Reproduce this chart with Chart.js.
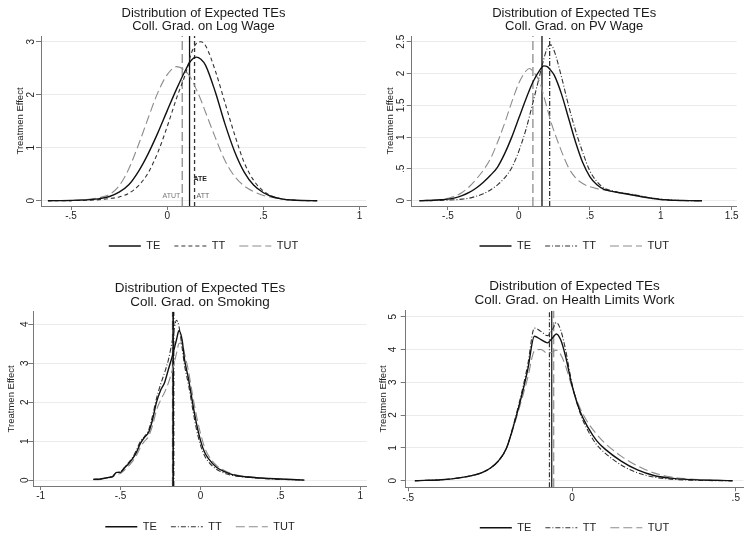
<!DOCTYPE html>
<html>
<head>
<meta charset="utf-8">
<script src="https://cdn.jsdelivr.net/npm/chart.js@4.4.1/dist/chart.umd.min.js"></script>
<style>
  html, body { margin: 0; padding: 0; background: #fff; }
  #wrap { position: relative; width: 751px; height: 540px; }
  canvas { position: absolute; }
</style>
</head>
<body>
<div id="wrap">
  <canvas id="c1" width="375" height="270" style="left:0;top:0"></canvas>
  <canvas id="c2" width="376" height="270" style="left:375px;top:0"></canvas>
  <canvas id="c3" width="375" height="270" style="left:0;top:270px"></canvas>
  <canvas id="c4" width="376" height="270" style="left:375px;top:270px"></canvas>
</div>
<script>
// panel 1: log wage
const x1 = [-0.62, -0.55, -0.5, -0.45, -0.4, -0.35, -0.3, -0.25, -0.2, -0.15, -0.1, -0.05, 0, 0.05, 0.1, 0.125, 0.15, 0.175, 0.2, 0.25, 0.3, 0.35, 0.4, 0.45, 0.5, 0.55, 0.6, 0.65, 0.7, 0.78];
const te1 = [0, 0.002, 0.005, 0.01, 0.02, 0.04, 0.08, 0.16, 0.3, 0.55, 0.88, 1.27, 1.7, 2.12, 2.5, 2.65, 2.71, 2.67, 2.55, 2.05, 1.45, 0.93, 0.54, 0.29, 0.15, 0.07, 0.03, 0.012, 0.004, 0];
const tt1 = [0, 0, 0.002, 0.005, 0.01, 0.02, 0.04, 0.07, 0.14, 0.28, 0.52, 0.9, 1.4, 1.95, 2.45, 2.78, 2.96, 3.0, 2.92, 2.45, 1.85, 1.25, 0.72, 0.38, 0.18, 0.08, 0.03, 0.01, 0.003, 0];
const tut1 = [0, 0.002, 0.005, 0.015, 0.03, 0.06, 0.12, 0.28, 0.6, 1.05, 1.55, 2.03, 2.38, 2.53, 2.43, 2.3, 2.11, 1.9, 1.66, 1.19, 0.76, 0.46, 0.28, 0.17, 0.1, 0.06, 0.03, 0.012, 0.004, 0];
const means1 = [0.116, 0.142, 0.078]; // TE, TT, TUT
const notes1 = ['ATE', 'ATT', 'ATUT'];
const noteY1 = [0.41, 0.095, 0.095];
const yTicks1 = [0, 1, 2, 3];
const yLabels1 = ['0', '1', '2', '3'];
const xTicks1 = [-0.5, 0, 0.5, 1];
const xLabels1 = ['-.5', '0', '.5', '1'];

// panel 2: PV wage
const x2 = [-0.7, -0.65, -0.6, -0.55, -0.5, -0.45, -0.4, -0.35, -0.3, -0.25, -0.2, -0.15, -0.1, -0.05, 0, 0.05, 0.075, 0.1, 0.15, 0.175, 0.2, 0.225, 0.25, 0.3, 0.35, 0.4, 0.45, 0.5, 0.55, 0.6, 0.65, 0.7, 0.75, 0.8, 0.85, 0.9, 0.95, 1, 1.05, 1.1, 1.15, 1.2, 1.29];
const te2 = [0, 0.003, 0.008, 0.015, 0.025, 0.045, 0.08, 0.13, 0.2, 0.29, 0.40, 0.53, 0.74, 1.0, 1.3, 1.6, 1.74, 1.87, 2.06, 2.12, 2.11, 2.05, 1.97, 1.68, 1.3, 0.92, 0.6, 0.38, 0.25, 0.18, 0.15, 0.13, 0.11, 0.09, 0.07, 0.05, 0.035, 0.02, 0.012, 0.006, 0.003, 0.001, 0];
const tt2 = [0, 0, 0.003, 0.006, 0.01, 0.015, 0.025, 0.04, 0.07, 0.11, 0.17, 0.25, 0.36, 0.52, 0.78, 1.12, 1.33, 1.55, 2.0, 2.22, 2.4, 2.45, 2.35, 1.95, 1.5, 1.1, 0.76, 0.47, 0.3, 0.2, 0.16, 0.13, 0.115, 0.1, 0.08, 0.055, 0.04, 0.025, 0.015, 0.008, 0.004, 0.001, 0];
const tut2 = [0, 0.005, 0.01, 0.02, 0.04, 0.07, 0.13, 0.22, 0.34, 0.48, 0.66, 0.92, 1.22, 1.55, 1.85, 2.04, 2.08, 2.03, 1.85, 1.65, 1.45, 1.25, 1.08, 0.78, 0.52, 0.36, 0.27, 0.22, 0.19, 0.17, 0.15, 0.13, 0.11, 0.09, 0.07, 0.05, 0.035, 0.02, 0.012, 0.006, 0.003, 0.001, 0];
const means2 = [0.163, 0.217, 0.099];
const yTicks2 = [0, 0.5, 1, 1.5, 2, 2.5];
const yLabels2 = ['0', '.5', '1', '1.5', '2', '2.5'];
const xTicks2 = [-0.5, 0, 0.5, 1, 1.5];
const xLabels2 = ['-.5', '0', '.5', '1', '1.5'];

// panel 3: smoking
const x3 = [-0.67, -0.625, -0.6, -0.575, -0.55, -0.525, -0.5, -0.475, -0.45, -0.425, -0.4, -0.375, -0.35, -0.325, -0.3, -0.275, -0.25, -0.225, -0.2, -0.175, -0.15, -0.135, -0.115, -0.1, -0.075, -0.05, -0.025, 0, 0.025, 0.05, 0.1, 0.15, 0.2, 0.25, 0.3, 0.4, 0.5, 0.65];
const te3 = [0.02, 0.03, 0.05, 0.07, 0.09, 0.2, 0.2, 0.32, 0.42, 0.55, 0.72, 0.95, 1.1, 1.22, 1.55, 2.0, 2.3, 2.5, 2.85, 3.2, 3.6, 3.83, 3.6, 3.1, 2.6, 2.0, 1.45, 1.02, 0.72, 0.55, 0.33, 0.22, 0.14, 0.1, 0.08, 0.05, 0.03, 0];
const tt3 = [0.02, 0.03, 0.05, 0.07, 0.1, 0.2, 0.22, 0.33, 0.45, 0.58, 0.78, 1.0, 1.12, 1.28, 1.65, 2.1, 2.45, 2.75, 3.1, 3.6, 4.1, 3.95, 3.4, 2.95, 2.45, 1.85, 1.3, 0.9, 0.63, 0.47, 0.28, 0.18, 0.12, 0.09, 0.07, 0.04, 0.02, 0];
const tut3 = [0.01, 0.02, 0.04, 0.06, 0.08, 0.15, 0.17, 0.26, 0.36, 0.48, 0.64, 0.85, 1.0, 1.12, 1.4, 1.8, 2.05, 2.25, 2.5, 2.85, 3.25, 3.5, 3.52, 3.25, 2.8, 2.2, 1.65, 1.2, 0.85, 0.63, 0.38, 0.25, 0.16, 0.11, 0.09, 0.05, 0.03, 0];
const means3 = [-0.171, -0.168, -0.174];
const yTicks3 = [0, 1, 2, 3, 4];
const yLabels3 = ['0', '1', '2', '3', '4'];
const xTicks3 = [-1, -0.5, 0, 0.5, 1];
const xLabels3 = ['-1', '-.5', '0', '.5', '1'];

// panel 4: health limits work
const x4 = [-0.48, -0.45, -0.4, -0.35, -0.3, -0.275, -0.25, -0.225, -0.2, -0.175, -0.15, -0.135, -0.115, -0.095, -0.075, -0.06, -0.048, -0.035, -0.02, 0, 0.025, 0.05, 0.075, 0.1, 0.15, 0.2, 0.25, 0.3, 0.35, 0.4, 0.45, 0.49];
const te4 = [0, 0.01, 0.03, 0.08, 0.17, 0.25, 0.38, 0.6, 1.0, 1.8, 2.75, 3.4, 4.4, 4.3, 4.2, 4.35, 4.47, 4.3, 3.8, 2.9, 2.1, 1.6, 1.22, 0.97, 0.6, 0.33, 0.16, 0.08, 0.04, 0.02, 0.01, 0];
const tt4 = [0, 0.01, 0.03, 0.08, 0.17, 0.25, 0.38, 0.6, 1.0, 1.85, 2.85, 3.55, 4.65, 4.55, 4.42, 4.6, 4.82, 4.6, 4.0, 2.95, 2.05, 1.5, 1.1, 0.85, 0.48, 0.24, 0.11, 0.05, 0.02, 0.01, 0, 0];
const tut4 = [0, 0.01, 0.03, 0.08, 0.17, 0.25, 0.38, 0.6, 1.0, 1.75, 2.6, 3.15, 3.95, 4.0, 3.88, 3.92, 3.98, 3.85, 3.5, 2.85, 2.2, 1.75, 1.42, 1.15, 0.75, 0.45, 0.24, 0.12, 0.06, 0.03, 0.01, 0];
const means4 = [-0.062, -0.069, -0.056];
const yTicks4 = [0, 1, 2, 3, 4, 5];
const yLabels4 = ['0', '1', '2', '3', '4', '5'];
const xTicks4 = [-0.5, 0, 0.5];
const xLabels4 = ['-.5', '0', '.5'];

const seriesNames = ['TE', 'TT', 'TUT'];
const yTitle = 'Treatmen Effect';

const fontFamily = '"Liberation Sans", Arial, Helvetica, sans-serif';
Chart.defaults.font.family = fontFamily;

const tickFont = 10;
const legendFont = 11;
const legendPad = 14;
const axisGray = '#777';

const styleOf = (name, ttDash) => {
  if (name === 'TE') return { color: '#111', width: 1.4, dash: [] };
  if (name === 'TT') return { color: '#333', width: 1.1, dash: ttDash };
  return { color: '#8c8c8c', width: 1.1, dash: [9, 4] };
};

// writes the ATE / ATT / ATUT notes next to their lines
const notePlugin = {
  id: 'notes',
  afterDatasetsDraw(chart, args, opts) {
    if (!opts.items || !opts.items.length) return;
    const { ctx } = chart;
    const xs = chart.scales.x;
    const ys = chart.scales.y;
    ctx.save();
    ctx.textBaseline = 'middle';
    opts.items.forEach(it => {
      ctx.font = (it.bold ? 'bold ' : '') + '7px ' + fontFamily;
      ctx.fillStyle = it.color;
      ctx.textAlign = it.align;
      ctx.fillText(it.text, xs.getPixelForValue(it.x) + it.dx, ys.getPixelForValue(it.y));
    });
    ctx.restore();
  }
};

// legend entries take the dash pattern of their curve
const legendItems = chart => chart.data.datasets.slice(0, 3).map((ds, i) => ({
  text: ds.label,
  datasetIndex: i,
  strokeStyle: ds.borderColor,
  fillStyle: ds.borderColor,
  fontColor: '#222',
  lineWidth: ds.borderWidth,
  lineDash: ds.borderDash,
  pointStyle: 'line',
  hidden: false
}));

const buildPanel = p => {
  const canvas = document.getElementById(p.id);
  const W = canvas.width;
  const H = canvas.height;
  const ctx = canvas.getContext('2d');

  ctx.font = tickFont + 'px ' + fontFamily;
  const widest = Math.max(...p.yLabels.map(t => ctx.measureText(t).width));

  const legendTop = p.legendY - legendPad - legendFont / 2;
  const legendH = legendFont + legendPad + 10;
  const titleTop = p.titleY - p.titleLH / 2;

  const datasets = seriesNames.map((name, i) => {
    const st = styleOf(name, p.ttDash);
    return {
      label: name,
      data: p.x.map((v, j) => ({ x: v, y: p.series[i][j] })),
      borderColor: st.color,
      borderWidth: st.width,
      borderDash: st.dash,
      cubicInterpolationMode: 'monotone',
      pointRadius: 0,
      fill: false
    };
  });

  seriesNames.forEach((name, i) => {
    const st = styleOf(name, p.ttDash);
    datasets.push({
      label: name + ' mean',
      data: [{ x: p.means[i], y: p.yRange[0] }, { x: p.means[i], y: p.yRange[1] }],
      borderColor: st.color,
      borderWidth: p.vWidth,
      borderDash: st.dash,
      pointRadius: 0,
      fill: false
    });
  });

  return new Chart(ctx, {
    type: 'line',
    data: { datasets },
    plugins: [notePlugin],
    options: {
      responsive: false,
      animation: false,
      events: [],
      layout: {
        autoPadding: false,
        padding: { left: 0, top: 0, right: W - p.area.right, bottom: H - legendTop - legendH }
      },
      plugins: {
        tooltip: { enabled: false },
        title: {
          display: true,
          fullSize: false,
          text: p.title,
          color: '#1a1a1a',
          font: { size: p.titleSize, weight: 'normal', lineHeight: p.titleLH / p.titleSize },
          padding: { top: titleTop, bottom: p.area.top - titleTop - 2 * p.titleLH }
        },
        legend: {
          position: 'bottom',
          fullSize: false,
          labels: {
            usePointStyle: true,
            pointStyle: 'line',
            pointStyleWidth: 32,
            color: '#222',
            font: { size: legendFont },
            padding: legendPad,
            generateLabels: legendItems
          }
        },
        notes: { items: p.notes || [] }
      },
      scales: {
        x: {
          type: 'linear',
          min: p.xRange[0],
          max: p.xRange[1],
          afterBuildTicks: s => { s.ticks = p.xTicks.map(v => ({ value: v })); },
          afterFit: s => { s.height = legendTop - p.area.bottom; },
          border: { color: axisGray },
          grid: { drawOnChartArea: false, tickLength: 4, tickColor: axisGray },
          ticks: {
            color: '#222',
            font: { size: tickFont },
            maxRotation: 0,
            autoSkip: false,
            padding: p.xLabelY - p.area.bottom - 4 - tickFont * 1.2 / 2,
            callback: (v, i) => p.xLabels[i]
          }
        },
        y: {
          type: 'linear',
          min: p.yRange[0],
          max: p.yRange[1],
          afterBuildTicks: s => { s.ticks = p.yTicks.map(v => ({ value: v })); },
          afterFit: s => { s.width = p.area.left; },
          border: { color: axisGray },
          grid: { color: '#ebebeb', tickLength: 5, tickColor: axisGray },
          title: {
            display: true,
            text: yTitle,
            color: '#222',
            font: { size: 9.5 },
            padding: { top: p.yTitleX - 9.5 * 1.2 / 2, bottom: 0 }
          },
          ticks: {
            color: '#222',
            font: { size: tickFont },
            minRotation: 90,
            maxRotation: 90,
            crossAlign: 'center',
            autoSkip: false,
            padding: (p.area.left - p.yLabelX) - 5 - widest / 2,
            callback: (v, i) => p.yLabels[i]
          }
        }
      }
    }
  });
};

buildPanel({
  id: 'c1',
  title: ['Distribution of Expected TEs', 'Coll. Grad. on Log Wage'],
  titleSize: 13, titleLH: 13, titleY: 13,
  area: { left: 41, right: 366, top: 36, bottom: 206 },
  legendY: 246, xLabelY: 216, yLabelX: 31, yTitleX: 20,
  xRange: [-0.656, 1.033], yRange: [-0.1, 3.108],
  x: x1, series: [te1, tt1, tut1], means: means1,
  ttDash: [4, 3], vWidth: 1.3,
  xTicks: xTicks1, xLabels: xLabels1, yTicks: yTicks1, yLabels: yLabels1,
  notes: [
    { text: notes1[0], x: means1[0], y: noteY1[0], dx: 4, align: 'left', color: '#222', bold: true },
    { text: notes1[1], x: means1[1], y: noteY1[1], dx: 2, align: 'left', color: '#666' },
    { text: notes1[2], x: means1[2], y: noteY1[2], dx: -2, align: 'right', color: '#777' }
  ]
});

buildPanel({
  id: 'c2',
  title: ['Distribution of Expected TEs', 'Coll. Grad. on PV Wage'],
  titleSize: 13, titleLH: 13, titleY: 13.3,
  area: { left: 36.7, right: 361.7, top: 36, bottom: 206 },
  legendY: 246, xLabelY: 216, yLabelX: 26.7, yTitleX: 15,
  xRange: [-0.755, 1.535], yRange: [-0.083, 2.59],
  x: x2, series: [te2, tt2, tut2], means: means2,
  ttDash: [5, 2, 1, 2], vWidth: 1.3,
  xTicks: xTicks2, xLabels: xLabels2, yTicks: yTicks2, yLabels: yLabels2
});

buildPanel({
  id: 'c3',
  title: ['Distribution of Expected TEs', 'Coll. Grad. on Smoking'],
  titleSize: 13.5, titleLH: 14, titleY: 18.3,
  area: { left: 33.3, right: 366.7, top: 41.7, bottom: 216 },
  legendY: 256.7, xLabelY: 226, yLabelX: 25, yTitleX: 11.7,
  xRange: [-1.046, 1.04], yRange: [-0.15, 4.32],
  x: x3, series: [te3, tt3, tut3], means: means3,
  ttDash: [5, 2, 1, 2], vWidth: 1.6,
  xTicks: xTicks3, xLabels: xLabels3, yTicks: yTicks3, yLabels: yLabels3
});

buildPanel({
  id: 'c4',
  title: ['Distribution of Expected TEs', 'Coll. Grad. on Health Limits Work'],
  titleSize: 13.5, titleLH: 14, titleY: 16,
  area: { left: 30.7, right: 368.3, top: 40.7, bottom: 217.3 },
  legendY: 257.7, xLabelY: 228, yLabelX: 18.3, yTitleX: 8.3,
  xRange: [-0.508, 0.523], yRange: [-0.2, 5.18],
  x: x4, series: [te4, tt4, tut4], means: means4,
  ttDash: [5, 2, 1, 2], vWidth: 1.2,
  xTicks: xTicks4, xLabels: xLabels4, yTicks: yTicks4, yLabels: yLabels4
});
</script>
</body>
</html>
